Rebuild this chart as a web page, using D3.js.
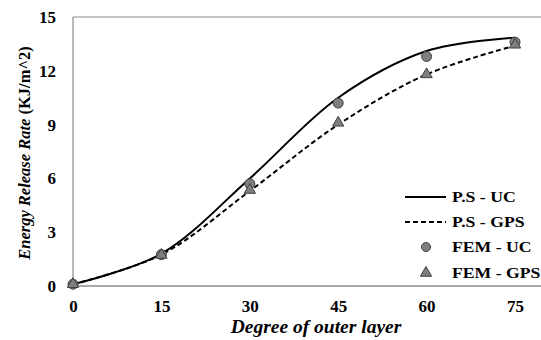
<!DOCTYPE html>
<html>
<head>
<meta charset="utf-8">
<script src="https://cdn.jsdelivr.net/npm/d3@7"></script>
</head>
<body style="margin:0; background:#fff">
<svg width="541" height="340"></svg>
<script>
var degrees = [0, 15, 30, 45, 60, 75];
var psUC = [0.1, 1.8, 6.0, 10.5, 13.1, 13.85];
var psGPS = [0.1, 1.75, 5.3, 9.0, 11.8, 13.4];
var femUC = [0.1, 1.75, 5.7, 10.2, 12.8, 13.6];
var femGPS = [0.1, 1.73, 5.35, 9.1, 11.8, 13.45];
var yTicks = [0, 3, 6, 9, 12, 15];
var seriesNames = ["P.S - UC", "P.S - GPS", "FEM - UC", "FEM - GPS"];

var FONT = "Liberation Serif";

var svg = d3.select("svg"),
    width = +svg.attr("width"),
    height = +svg.attr("height");

var x = d3.scaleLinear().domain([0, 75]).range([73, 515]);
var y = d3.scaleLinear().domain([0, 15]).range([286, 17]);

// frame lines
svg.append("line")
    .attr("x1", x(0)).attr("x2", width)
    .attr("y1", y(15)).attr("y2", y(15))
    .attr("stroke", "#8c8c8c").attr("stroke-width", 1.2);
svg.append("line")
    .attr("x1", x(0)).attr("x2", x(0))
    .attr("y1", y(0)).attr("y2", y(15))
    .attr("stroke", "#8c8c8c").attr("stroke-width", 1.2);
svg.append("line")
    .attr("x1", x(0)).attr("x2", width)
    .attr("y1", y(0)).attr("y2", y(0))
    .attr("stroke", "#8c8c8c").attr("stroke-width", 1.5);

var xAxis = svg.append("g")
    .attr("transform", "translate(0," + y(0) + ")")
    .call(d3.axisBottom(x).tickValues(degrees).tickSize(0).tickPadding(14));
xAxis.select(".domain").remove();
xAxis.attr("font-family", FONT).attr("font-size", 17).attr("font-weight", "bold");
xAxis.selectAll("text").attr("fill", "#000");

var yAxis = svg.append("g")
    .attr("transform", "translate(" + x(0) + ",0)")
    .call(d3.axisLeft(y).tickValues(yTicks).tickSize(0).tickPadding(17));
yAxis.select(".domain").remove();
yAxis.attr("font-family", FONT).attr("font-size", 17).attr("font-weight", "bold");
yAxis.selectAll("text").attr("fill", "#000");

// axis titles
svg.append("text")
    .attr("x", 316).attr("y", 333)
    .attr("text-anchor", "middle")
    .attr("font-family", FONT).attr("font-weight", "bold")
    .attr("font-style", "italic")
    .attr("font-size", 19.5)
    .text("Degree of outer layer");

var yt = svg.append("text")
    .attr("transform", "translate(30,153) rotate(-90)")
    .attr("text-anchor", "middle")
    .attr("font-family", FONT).attr("font-weight", "bold")
    .attr("font-size", 16.5);
yt.append("tspan").attr("font-style", "italic").text("Energy Release Rate ");
yt.append("tspan").text("(KJ/m^2)");

var line = d3.line()
    .x(function(d, i) { return x(degrees[i]); })
    .y(function(d) { return y(d); })
    .curve(d3.curveCatmullRom.alpha(0.5));

svg.append("path")
    .attr("d", line(psUC))
    .attr("fill", "none").attr("stroke", "#000").attr("stroke-width", 2);

svg.append("path")
    .attr("d", line(psGPS))
    .attr("fill", "none").attr("stroke", "#000").attr("stroke-width", 2)
    .attr("stroke-dasharray", "5,3");

svg.selectAll(".circ")
    .data(femUC)
    .enter().append("circle")
    .attr("class", "circ")
    .attr("cx", function(d, i) { return x(degrees[i]); })
    .attr("cy", function(d) { return y(d); })
    .attr("r", 5)
    .attr("fill", "#7f7f7f").attr("stroke", "#404040").attr("stroke-width", 1);

var tri = d3.symbol().type(d3.symbolTriangle).size(55);

svg.selectAll(".tri")
    .data(femGPS)
    .enter().append("path")
    .attr("class", "tri")
    .attr("transform", function(d, i) { return "translate(" + x(degrees[i]) + "," + y(d) + ")"; })
    .attr("d", tri)
    .attr("fill", "#7f7f7f").attr("stroke", "#404040").attr("stroke-width", 1);

// legend
var legend = svg.append("g");
var rowY = [197, 222, 247, 273];
seriesNames.forEach(function(name, i) {
  var ly = rowY[i];
  if (i < 2) {
    legend.append("line")
      .attr("x1", 405).attr("x2", 446)
      .attr("y1", ly).attr("y2", ly)
      .attr("stroke", "#000").attr("stroke-width", 2)
      .attr("stroke-dasharray", i === 1 ? "5,3" : null);
  } else if (i === 2) {
    legend.append("circle")
      .attr("cx", 426).attr("cy", ly).attr("r", 4.5)
      .attr("fill", "#7f7f7f").attr("stroke", "#404040");
  } else {
    legend.append("path")
      .attr("transform", "translate(426," + ly + ")")
      .attr("d", tri)
      .attr("fill", "#7f7f7f").attr("stroke", "#404040");
  }
  legend.append("text")
    .attr("transform", "translate(452," + (ly + 5) + ") scale(1.22,1)")
    .attr("font-family", FONT).attr("font-weight", "bold")
    .attr("font-size", 14.5)
    .text(name);
});
</script>
</body>
</html>
